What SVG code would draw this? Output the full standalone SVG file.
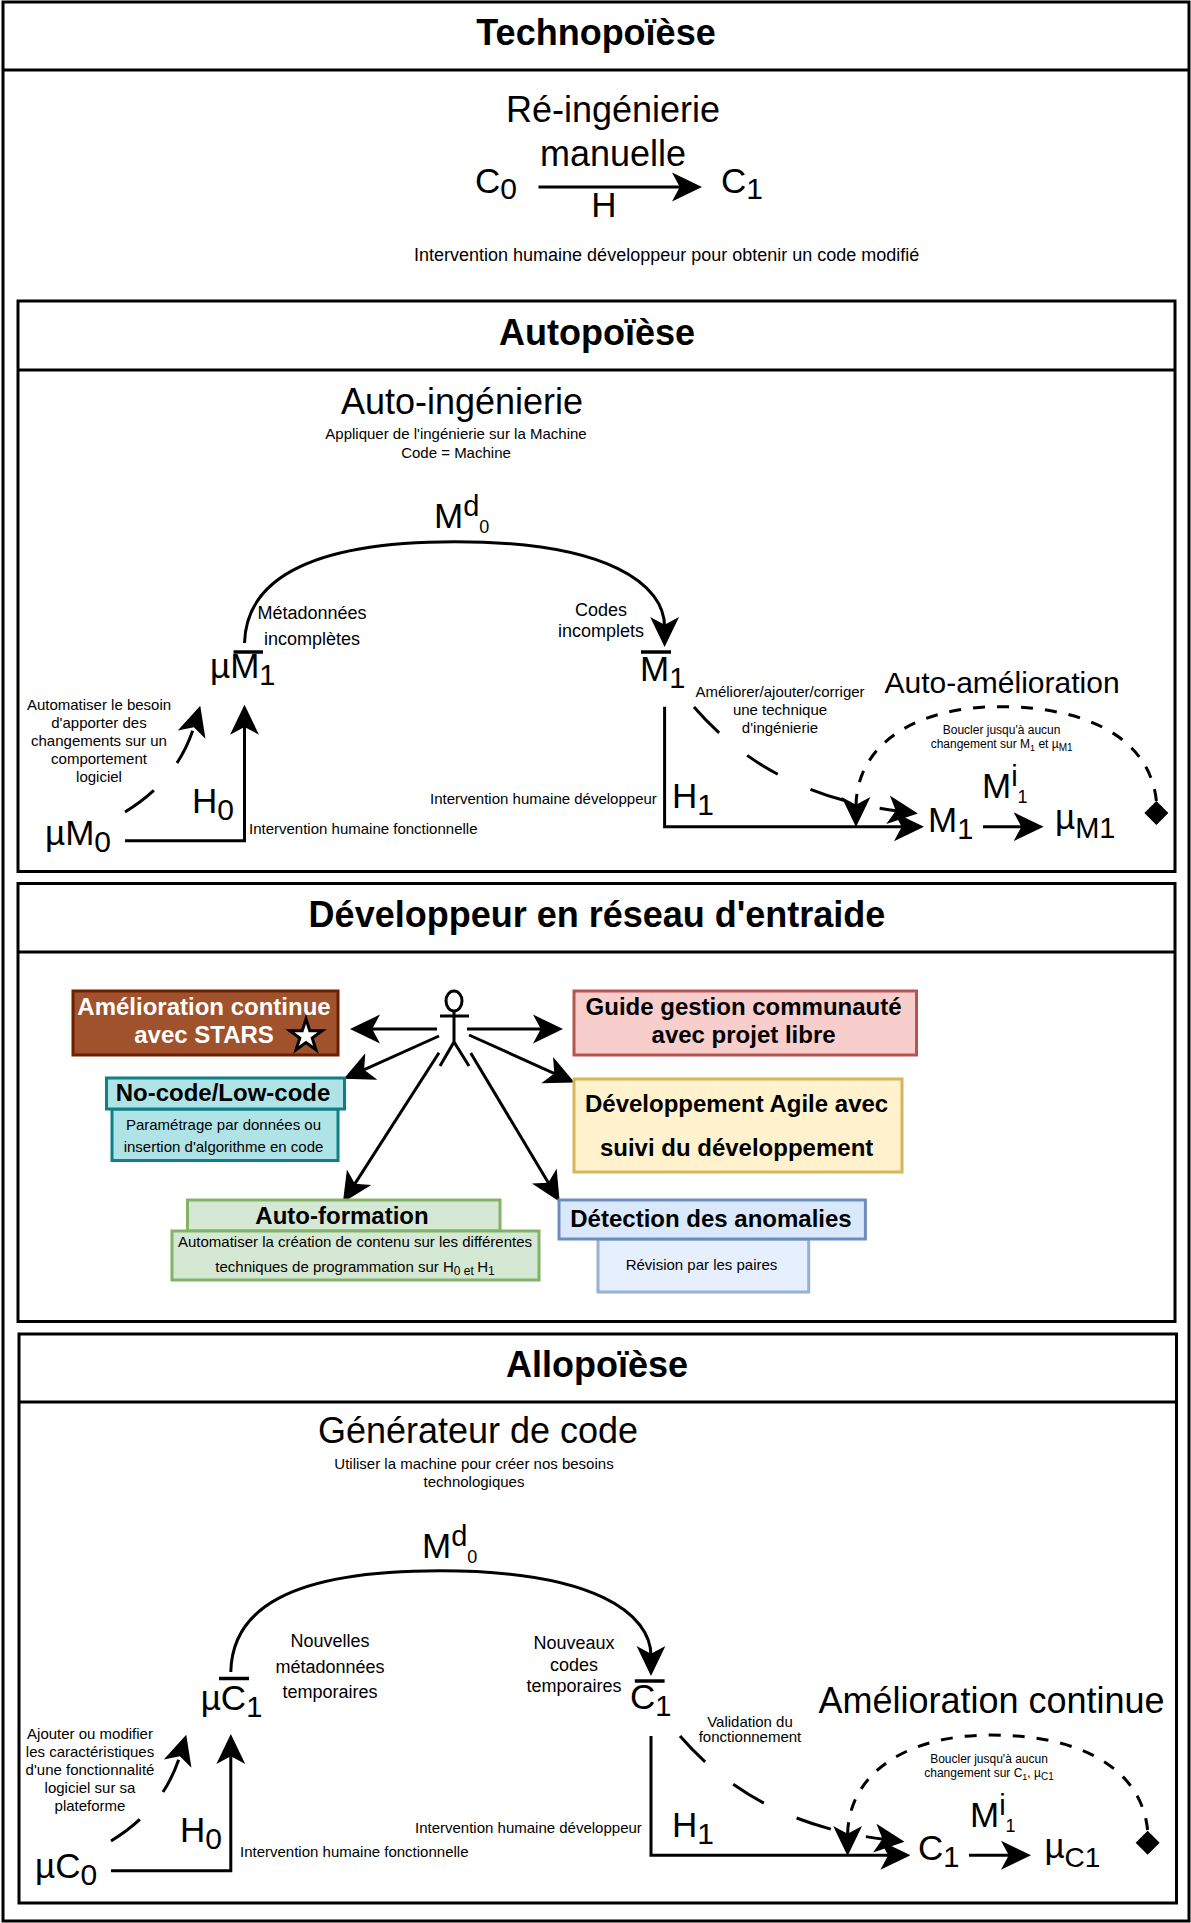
<svg xmlns="http://www.w3.org/2000/svg" width="1191" height="1923" viewBox="0 0 1191 1923">
<defs>
<marker id="a" markerUnits="userSpaceOnUse" markerWidth="30" markerHeight="30" viewBox="0 0 27 26" refX="9" refY="13" orient="auto"><path d="M0 0L27 13L0 26L7 13Z" fill="#000"/></marker>
</defs>
<style>
text{font-family:"Liberation Sans",Arial,sans-serif;fill:#000}
.m{text-anchor:middle}
.t{font-size:36px;font-weight:bold;text-anchor:middle}
.h{font-size:36px}
.e{font-size:35px}
.c{font-size:15px}
.l{font-size:18px}
.s{font-size:12px}
.b{font-size:24px;font-weight:bold;text-anchor:middle}
.f{fill:none;stroke:#000;stroke-width:3}
.w{fill:none;stroke:#000;stroke-width:3;marker-end:url(#a)}
.d{stroke-dasharray:36 36}
.g{stroke-dasharray:12 12}
.bar{stroke:#000;stroke-width:3.5}
</style>
<rect width="1191" height="1923" fill="#fff"/>

<g id="frames">
<rect class="f" x="3" y="2" width="1186" height="1919"/><line class="f" x1="3" y1="70" x2="1189" y2="70"/>
<rect class="f" x="18" y="301" width="1157" height="570.500"/><line class="f" x1="18" y1="370" x2="1175" y2="370"/>
<rect class="f" x="18" y="883.500" width="1157" height="438"/><line class="f" x1="18" y1="952" x2="1175" y2="952"/>
<rect class="f" x="19" y="1334" width="1157.500" height="569"/><line class="f" x1="19" y1="1402" x2="1176.500" y2="1402"/>
</g>

<g id="connectors">
<path class="w" d="M538.500 187H682"/>
<path class="w" d="M244.500 643C246 585 300 541.700 455 541.700C610 541.700 664.600 585 664.600 627"/>
<path class="w" d="M125 840.700H244.500V724.700"/>
<path class="w d" d="M125 812Q178 780 194.500 725"/>
<path class="w" d="M664.600 706.700V826.700H904"/>
<path class="w d" d="M694 707Q770 795 898 811"/>
<path class="w g" d="M1156.400 801C1150 740 1090 706.700 999.500 706.700C915 706.700 856 745 856 807"/>
<path class="w" d="M983 826.700H1023.600"/>
<polygon points="1156.400,801 1168.400,813 1156.400,825 1144.400,813" fill="#000"/>

<path class="w" d="M437 1029H370"/>
<path class="w" d="M467 1029H543"/>
<path class="w" d="M439 1036L362.100 1070.600"/>
<path class="w" d="M469 1035L556.300 1074.300"/>
<path class="w" d="M439 1052.700L353.700 1185.600"/>
<path class="w" d="M470.700 1053L549.400 1184.600"/>

<path class="w" d="M230.800 1672C232 1610 288 1570.800 440 1570.800C595 1570.800 651 1614 651 1656"/>
<path class="w" d="M111 1870.800H230.800V1754"/>
<path class="w d" d="M111 1841Q164 1809 180.500 1754"/>
<path class="w" d="M651 1736V1855.300H890.400"/>
<path class="w d" d="M680 1736Q756 1824 884.700 1839.300"/>
<path class="w g" d="M1147.600 1830C1141.400 1769 1081.400 1735 991 1735C906 1735 847.600 1774 847.600 1836"/>
<path class="w" d="M969 1855.300H1011"/>
<polygon points="1147.600,1830.700 1159.600,1842.700 1147.600,1854.700 1135.600,1842.700" fill="#000"/>
</g>

<g id="technopoiese">
<text class="t" x="596" y="45">Technopoïèse</text>
<text class="h m" x="613" y="122">Ré-ingénierie</text>
<text class="h m" x="613" y="166">manuelle</text>
<text class="e" x="475" y="193">C<tspan font-size="30" dy="6">0</tspan></text>
<text class="e" x="721" y="193">C<tspan font-size="30" dy="6">1</tspan></text>
<text class="e m" x="604" y="217">H</text>
<text class="c" x="414" y="261" style="font-size:18px">Intervention humaine développeur pour obtenir un code modifié</text>
</g>

<g id="autopoiese">
<text class="t" x="597" y="345">Autopoïèse</text>
<text class="h m" x="462" y="414">Auto-ingénierie</text>
<text class="c m" x="456" y="439">Appliquer de l'ingénierie sur la Machine</text>
<text class="c m" x="456" y="458">Code = Machine</text>
<text class="e" x="434" y="528">M<tspan font-size="29" dy="-12">d</tspan><tspan font-size="18" dy="17">0</tspan></text>
<text class="l m" x="312" y="619">Métadonnées</text>
<text class="l m" x="312" y="645">incomplètes</text>
<text class="l m" x="601" y="616">Codes</text>
<text class="l m" x="601" y="637">incomplets</text>
<text class="e" x="210" y="678">µM<tspan font-size="29" dy="7">1</tspan></text>
<line class="bar" x1="233.500" y1="652" x2="263" y2="652"/>
<text class="c m" x="99" y="710">Automatiser le besoin</text>
<text class="c m" x="99" y="728">d'apporter des</text>
<text class="c m" x="99" y="746">changements sur un</text>
<text class="c m" x="99" y="764">comportement</text>
<text class="c m" x="99" y="782">logiciel</text>
<text class="e" x="192" y="813">H<tspan font-size="30" dy="7">0</tspan></text>
<text class="e" x="45" y="845">µM<tspan font-size="30" dy="7">0</tspan></text>
<text class="c" x="249" y="834">Intervention humaine fonctionnelle</text>
<text class="c" x="430" y="804">Intervention humaine développeur</text>
<text class="e" x="640" y="681">M<tspan font-size="29" dy="7">1</tspan></text>
<line class="bar" x1="641" y1="652" x2="671" y2="652"/>
<text class="c m" x="780" y="697">Améliorer/ajouter/corriger</text>
<text class="c m" x="780" y="715">une technique</text>
<text class="c m" x="780" y="733">d'ingénierie</text>
<text x="1002" y="693" class="m" style="font-size:30px">Auto-amélioration</text>
<text class="s m" x="1001.600" y="734">Boucler jusqu'à aucun</text>
<text class="s m" x="1001.600" y="748">changement sur M<tspan font-size="9" dy="3">1</tspan><tspan dy="-3"> et µ</tspan><tspan font-size="10" dy="3">M1</tspan></text>
<text class="e" x="672" y="808">H<tspan font-size="30" dy="7">1</tspan></text>
<text class="e" x="928" y="832">M<tspan font-size="29" dy="7">1</tspan></text>
<text class="e" x="982" y="798">M<tspan font-size="29" dy="-12">i</tspan><tspan font-size="18" dy="17">1</tspan></text>
<text class="e" x="1055" y="829">µ<tspan font-size="29" dy="9">M1</tspan></text>
</g>

<g id="reseau">
<text class="t" x="597" y="927">Développeur en réseau d'entraide</text>
<g id="actor" class="f">
<ellipse cx="454" cy="1001" rx="8" ry="10"/>
<path d="M454 1011V1042M440 1016H469M440 1066L454 1042L469 1066"/>
</g>
<g id="stars">
<rect x="73" y="991" width="265" height="64" fill="#a0522d" stroke="#6d1f00" stroke-width="3"/>
<text class="b" x="204" y="1015" style="fill:#fff">Amélioration continue</text>
<text class="b" x="204" y="1043" style="fill:#fff">avec STARS</text>
<polygon points="306,1019 309.800,1030.700 322.200,1030.700 312.200,1038 316,1049.800 306,1042.500 296,1049.800 299.800,1038 289.800,1030.700 302.200,1030.700" fill="#fff" stroke="#000" stroke-width="3"/>
</g>
<g id="guide">
<rect x="574" y="991" width="342.500" height="64" fill="#f8cecc" stroke="#b85450" stroke-width="3"/>
<text class="b" x="743.600" y="1015">Guide gestion communauté</text>
<text class="b" x="743.600" y="1043">avec projet libre</text>
</g>
<g id="agile">
<rect x="574" y="1079" width="328" height="93" fill="#fff2cc" stroke="#d6b656" stroke-width="3"/>
<text class="b" x="736.600" y="1111.700">Développement Agile avec</text>
<text class="b" x="736.600" y="1156">suivi du développement</text>
</g>
<g id="nocode">
<rect x="112" y="1109" width="226" height="51.500" fill="#b0e3e6" stroke="#0e8088" stroke-width="3"/>
<rect x="106.500" y="1078" width="238" height="31" fill="#b0e3e6" stroke="#0e8088" stroke-width="3"/>
<text class="b" x="223" y="1100.700">No-code/Low-code</text>
<text class="c m" x="223.500" y="1130">Paramétrage par données ou</text>
<text class="c m" x="223.500" y="1151.700">insertion d'algorithme en code</text>
</g>
<g id="autoformation">
<rect x="187.500" y="1200" width="312.500" height="31" fill="#d5e8d4" stroke="#82b366" stroke-width="3"/>
<rect x="172" y="1231" width="367" height="49" fill="#d5e8d4" stroke="#82b366" stroke-width="3"/>
<text class="b" x="342" y="1224">Auto-formation</text>
<text class="c m" x="355" y="1247">Automatiser la création de contenu sur les différentes</text>
<text class="c m" x="355" y="1272">techniques de programmation sur H<tspan font-size="12" dy="3">0 et </tspan><tspan dy="-3">H</tspan><tspan font-size="12" dy="3">1</tspan></text>
</g>
<g id="detection">
<rect x="598" y="1239" width="210.700" height="53" fill="#e6effd" stroke="#98b0d2" stroke-width="3"/>
<rect x="559" y="1200" width="306.400" height="39" fill="#dae8fc" stroke="#6c8ebf" stroke-width="3"/>
<text class="b" x="711" y="1227">Détection des anomalies</text>
<text class="c m" x="701.500" y="1270">Révision par les paires</text>
</g>
</g>

<g id="allopoiese">
<text class="t" x="597" y="1377">Allopoïèse</text>
<text class="h m" x="478" y="1443">Générateur de code</text>
<text class="c m" x="474" y="1469">Utiliser la machine pour créer nos besoins</text>
<text class="c m" x="474" y="1487">technologiques</text>
<text class="e" x="422" y="1558">M<tspan font-size="29" dy="-12">d</tspan><tspan font-size="18" dy="17">0</tspan></text>
<text class="l m" x="330" y="1647">Nouvelles</text>
<text class="l m" x="330" y="1673">métadonnées</text>
<text class="l m" x="330" y="1698">temporaires</text>
<text class="l m" x="574" y="1649">Nouveaux</text>
<text class="l m" x="574" y="1671">codes</text>
<text class="l m" x="574" y="1692">temporaires</text>
<text class="e" x="200.700" y="1710">µC<tspan font-size="29" dy="7">1</tspan></text>
<line class="bar" x1="219" y1="1678.500" x2="249" y2="1678.500"/>
<text class="c m" x="90" y="1739">Ajouter ou modifier</text>
<text class="c m" x="90" y="1757">les caractéristiques</text>
<text class="c m" x="90" y="1775">d'une fonctionnalité</text>
<text class="c m" x="90" y="1793">logiciel sur sa</text>
<text class="c m" x="90" y="1811">plateforme</text>
<text class="e" x="180" y="1842">H<tspan font-size="30" dy="7">0</tspan></text>
<text class="e" x="35" y="1878">µC<tspan font-size="30" dy="7">0</tspan></text>
<text class="c" x="240" y="1857">Intervention humaine fonctionnelle</text>
<text class="c" x="415" y="1833">Intervention humaine développeur</text>
<text class="e" x="630" y="1709">C<tspan font-size="29" dy="7">1</tspan></text>
<line class="bar" x1="634.800" y1="1681" x2="664.600" y2="1681"/>
<text class="c m" x="750" y="1727">Validation du</text>
<text class="c m" x="750" y="1742">fonctionnement</text>
<text x="991.500" y="1713" class="m" style="font-size:36px">Amélioration continue</text>
<text class="s m" x="989" y="1763">Boucler jusqu'à aucun</text>
<text class="s m" x="989" y="1777">changement sur C<tspan font-size="9" dy="3">1</tspan><tspan dy="-3">, µ</tspan><tspan font-size="10" dy="3">C1</tspan></text>
<text class="e" x="672" y="1837">H<tspan font-size="30" dy="7">1</tspan></text>
<text class="e" x="918" y="1860">C<tspan font-size="29" dy="7">1</tspan></text>
<text class="e" x="970" y="1827">M<tspan font-size="29" dy="-12">i</tspan><tspan font-size="18" dy="17">1</tspan></text>
<text class="e" x="1044.400" y="1858">µ<tspan font-size="28" dy="9">C1</tspan></text>
</g>
</svg>
